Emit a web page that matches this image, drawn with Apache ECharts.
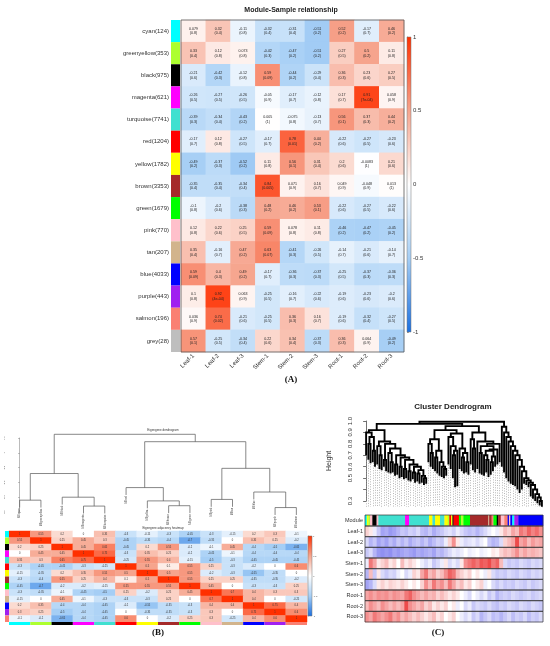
<!DOCTYPE html>
<html>
<head>
<meta charset="utf-8">
<script src="https://cdn.jsdelivr.net/npm/echarts@6/dist/echarts.min.js"></script>
<style>
  html, body { margin: 0; padding: 0; background: #fff; }
  #chart { width: 550px; height: 646px; }
</style>
</head>
<body>
<div id="chart"></div>
<script>
// ---------- panel A : module-sample relationship ----------
var samples = ['Leaf-1', 'Leaf-2', 'Leaf-3', 'Stem-1', 'Stem-2', 'Stem-3', 'Root-1', 'Root-2', 'Root-3'];
var modules = ['cyan', 'greenyellow', 'black', 'magenta', 'turquoise', 'red', 'yellow', 'brown',
               'green', 'pink', 'tan', 'blue', 'purple', 'salmon', 'grey'];
var moduleSizes = [124, 353, 975, 621, 7741, 1204, 1782, 3353, 1679, 770, 207, 4033, 443, 196, 28];
var corr = [
  [0.079, 0.32, -0.11, -0.32, -0.31, -0.51, 0.52, -0.17, 0.46],
  [0.33, 0.12, 0.073, -0.42, -0.47, -0.51, 0.27, 0.5, 0.11],
  [-0.21, -0.42, -0.12, 0.59, -0.44, -0.29, 0.36, 0.23, 0.27],
  [-0.26, -0.27, -0.26, -0.05, -0.17, -0.12, 0.17, 0.91, 0.058],
  [-0.39, -0.34, -0.43, 0.005, -0.075, -0.13, 0.56, 0.37, 0.44],
  [-0.17, 0.12, -0.27, -0.17, 0.78, 0.44, -0.22, -0.27, -0.23],
  [-0.49, -0.37, -0.52, 0.11, 0.56, 0.31, 0.2, -0.0083, 0.21],
  [-0.35, -0.35, -0.34, 0.84, 0.071, 0.16, 0.049, -0.048, 0.013],
  [-0.1, -0.2, -0.38, 0.48, 0.46, 0.53, -0.22, -0.27, -0.22],
  [0.12, 0.22, 0.25, 0.59, 0.078, 0.11, -0.46, -0.47, -0.45],
  [0.35, -0.16, 0.47, 0.63, -0.41, -0.26, -0.14, -0.21, -0.14],
  [0.59, 0.4, 0.49, -0.17, -0.36, -0.37, -0.25, -0.37, -0.36],
  [0.1, 0.92, 0.063, -0.25, -0.16, -0.22, -0.19, -0.23, -0.2],
  [0.036, 0.74, -0.21, -0.25, 0.36, 0.16, -0.19, -0.32, -0.27],
  [0.57, -0.25, -0.34, 0.22, 0.34, -0.37, 0.36, 0.064, -0.49]
];
var pvals = [
  ['0.8', '0.4', '0.8', '0.4', '0.4', '0.2', '0.2', '0.7', '0.2'],
  ['0.4', '0.8', '0.8', '0.3', '0.2', '0.2', '0.5', '0.2', '0.8'],
  ['0.6', '0.3', '0.8', '0.09', '0.2', '0.4', '0.3', '0.6', '0.5'],
  ['0.5', '0.5', '0.5', '0.9', '0.7', '0.8', '0.7', '7e-04', '0.9'],
  ['0.3', '0.4', '0.2', '1', '0.8', '0.7', '0.1', '0.3', '0.2'],
  ['0.7', '0.8', '0.5', '0.7', '0.01', '0.2', '0.6', '0.5', '0.6'],
  ['0.2', '0.3', '0.2', '0.8', '0.1', '0.4', '0.6', '1', '0.6'],
  ['0.4', '0.4', '0.4', '0.005', '0.9', '0.7', '0.9', '0.9', '1'],
  ['0.8', '0.6', '0.3', '0.2', '0.2', '0.1', '0.6', '0.5', '0.6'],
  ['0.8', '0.6', '0.5', '0.09', '0.8', '0.8', '0.2', '0.2', '0.2'],
  ['0.4', '0.7', '0.2', '0.07', '0.3', '0.5', '0.7', '0.6', '0.7'],
  ['0.09', '0.3', '0.2', '0.7', '0.3', '0.3', '0.5', '0.3', '0.3'],
  ['0.8', '4e-04', '0.9', '0.5', '0.7', '0.6', '0.6', '0.6', '0.6'],
  ['0.9', '0.02', '0.6', '0.5', '0.3', '0.7', '0.6', '0.4', '0.5'],
  ['0.1', '0.5', '0.4', '0.6', '0.4', '0.3', '0.3', '0.9', '0.2']
];

// ---------- panel B : eigengene dendrogram + adjacency ----------
var eigenNames = ['cyan', 'greenyellow', 'black', 'magenta', 'turquoise', 'red', 'yellow',
                  'brown', 'green', 'pink', 'tan', 'blue', 'purple', 'salmon'];
// merge height between neighbouring leaves (dendrogram order)
var eigenGaps = [0.36, 0.72, 0.40, 0.28, 1.25, 0.53, 0.35, 0.285, 1.15, 0.37, 0.79, 0.47, 0.26];
var adjacency = [
  [1, 0.55, 0.2, 0, 0.35, -0.3, -0.15, -0.3, -0.45, -0.3, -0.15, 0.2, 0.3, -0.1],
  [0.55, 1, 0.25, 0.45, 0.3, -0.45, -0.35, -0.4, -0.7, -0.35, 0, 0.35, 0.25, -0.2],
  [0.2, 0.25, 1, 0.45, 0.65, -0.45, 0.2, 0.55, -0.2, -0.1, 0.45, -0.4, -0.5, -0.65],
  [0, 0.45, 0.45, 1, 0.75, -0.3, 0.35, 0.25, -0.2, -0.45, -0.1, -0.4, -0.4, -0.4],
  [0.35, 0.3, 0.65, 0.75, 1, -0.25, 0.55, 0.4, -0.15, -0.5, -0.3, -0.45, -0.45, -0.45],
  [-0.3, -0.45, -0.45, -0.3, -0.25, 1, 0.5, 0.1, 0.55, 0.25, -0.3, -0.2, 0, 0.6],
  [-0.15, -0.35, 0.2, 0.35, 0.55, 0.5, 1, 0.5, 0.55, -0.2, -0.3, -0.55, -0.35, 0],
  [-0.3, -0.4, 0.55, 0.25, 0.4, 0.1, 0.5, 1, 0.55, 0.25, 0.25, -0.35, -0.35, -0.2],
  [-0.45, -0.7, -0.2, -0.2, -0.15, 0.55, 0.55, 0.55, 1, 0.45, 0, -0.3, -0.3, 0.25],
  [-0.3, -0.35, -0.1, -0.45, -0.5, 0.25, -0.2, 0.25, 0.45, 1, 0.7, 0.4, 0.3, 0.3],
  [-0.15, 0, 0.45, -0.1, -0.3, -0.3, -0.3, 0.25, 0, 0.7, 1, 0.4, 0, -0.25],
  [0.2, 0.35, -0.4, -0.4, -0.45, -0.2, -0.55, -0.35, -0.3, 0.4, 0.4, 1, 0.75, 0.4],
  [0.3, 0.25, -0.5, -0.4, -0.45, 0, -0.35, -0.35, -0.3, 0.3, 0, 0.75, 1, 0.6],
  [-0.1, -0.2, -0.65, -0.4, -0.45, 0.6, 0, -0.2, 0.25, 0.3, -0.25, 0.4, 0.6, 1]
];

// ---------- panel C : gene cluster dendrogram ----------
var geneLeafH = [0.70, 0.66, 0.63, 0.64, 0.60, 0.62, 0.58, 0.57, 0.60, 0.56, 0.55, 0.54, 0.55, 0.52,
  0.53, 0.50, 0.51, 0.49, 0.50, 0.48, 0.47, 0.49, 0.46, 0.47, 0.45, 0.46, 0.44, 0.45,
  0.64, 0.60, 0.58, 0.56, 0.54, 0.52, 0.51, 0.50, 0.52,
  0.62, 0.58, 0.50, 0.42, 0.43, 0.58, 0.56, 0.54, 0.55, 0.53,
  0.62, 0.57, 0.55, 0.58, 0.54, 0.53, 0.52, 0.55, 0.51, 0.53, 0.56, 0.60, 0.62, 0.64,
  0.60, 0.55, 0.50, 0.47, 0.45, 0.44, 0.43, 0.40, 0.37, 0.40, 0.45, 0.44, 0.42, 0.34, 0.32,
  0.30, 0.28, 0.26, 0.25];
var geneGaps = [0.90, 0.80, 0.86, 0.74, 0.92, 0.78, 0.70, 0.82, 0.66, 0.80, 0.72, 0.64, 0.76, 0.62,
  0.70, 0.60, 0.68, 0.58, 0.66, 0.56, 0.62, 0.55, 0.60, 0.54, 0.57, 0.52, 0.50,
  0.975,
  0.80, 0.72, 0.84, 0.68, 0.74, 0.64, 0.60, 0.58,
  0.92,
  0.86, 0.78, 0.70, 0.74, 0.89, 0.76, 0.68, 0.72, 0.64,
  0.955,
  0.84, 0.76, 0.90, 0.82, 0.72, 0.78, 0.70, 0.66, 0.74, 0.64, 0.69, 0.75, 0.80,
  0.993,
  0.95, 0.90, 0.86, 0.82, 0.78, 0.74, 0.70, 0.66, 0.60, 0.56, 0.50, 0.48, 0.46, 0.44, 0.40,
  0.36, 0.33, 0.30];
var heightTicks = [0.3, 0.5, 0.6, 0.7, 0.8, 0.9, 1.0];
var moduleEdges = [0, 0.8, 1.5, 2.2, 3.3, 5.2, 6.0, 18.0, 19.8, 28.8, 30.3, 31.5, 33.7, 35.7, 37.2,
  37.9, 38.7, 39.3, 39.8, 42.2, 43.1, 44.2, 47.2, 55.4, 55.8, 56.9, 57.7, 59.2, 59.9, 61.0, 62.6,
  64.1, 64.7, 65.3, 66.2, 67.1, 68.9, 80];
var moduleRuns = ['cyan', 'yellow', 'greenyellow', 'pink', 'black', 'pink', 'turquoise', 'magenta',
  'turquoise', 'yellow', 'turquoise', 'yellow', 'turquoise', 'yellow', 'greenyellow', 'red', 'yellow',
  'black', 'red', 'green', 'greenyellow', 'green', 'brown', 'tan', 'brown', 'salmon', 'green', 'black',
  'brown', 'pink', 'salmon', 'blue', 'pink', 'blue', 'cyan', 'purple', 'blue'];
var exprLeaf1 = [0.2, 0.1, -0.1, -0.3, -0.5, -0.45, -0.55, -0.5, -0.4, -0.3, -0.35, -0.25, -0.3, -0.2, -0.35,
  -0.4, -0.3, -0.45, -0.35, -0.3, -0.2, -0.15, -0.25, -0.1, -0.2, -0.3, -0.35, -0.3, -0.4, -0.3, -0.2,
  -0.1, 0, -0.1, 0.1, 0.3, 0.2, 0.4, 0.3, 0.6, 0.5, 0.7, 0.55, 0.65, 0.5];
var exprLeaf2 = [-0.2, -0.4, -0.3, -0.5, -0.4, -0.5, -0.35, -0.45, -0.3, -0.4, -0.3, -0.45, -0.35, -0.3, -0.4,
  -0.3, -0.45, -0.35, -0.25, -0.3, -0.1, 0.2, 0.5, 0.1, -0.1, -0.2, -0.15, -0.1, -0.2, -0.1, 0,
  -0.3, -0.4, -0.35, -0.2, 0.2, 0.3, 0.4, 0.8, 0.4, 0.5, 0.3, 0.45, 0.35, 0.4];
var exprLeaf3 = [-0.3, -0.2, -0.4, -0.55, -0.6, -0.55, -0.6, -0.5, -0.55, -0.5, -0.45, -0.5, -0.55, -0.45, -0.5,
  -0.45, -0.4, -0.5, -0.35, -0.4, -0.3, -0.2, -0.1, -0.15, -0.1, 0, -0.1, -0.05, 0, -0.1, -0.05,
  0, 0.1, 0.05, 0.2, 0.3, 0.25, 0.35, 0.5, 0.3, 0.4, 0.3, 0.35, 0.3, 0.25];
var exprStem1 = [-0.1, 0.6, 0.4, 0.1, 0.2, 0.3, 0.1, 0.2, 0, 0.3, 0.1, 0.2, 0.1, 0, -0.1,
  -0.2, -0.1, -0.3, -0.2, -0.1, 0.1, -0.2, -0.1, -0.2, 0.1, 0.5, 0.6, 0.7, 0.6, 0.75, 0.7,
  0.8, 0.6, 0.7, 0.3, -0.2, -0.3, -0.25, -0.3, -0.2, -0.25, -0.3, -0.2, -0.25, -0.2];
var exprStem2 = [-0.4, 0.3, -0.3, 0.1, -0.2, -0.3, -0.2, -0.25, -0.1, 0, -0.2, -0.1, 0.2, 0.1, 0.4,
  0.6, 0.3, 0.4, 0.2, 0.3, 0.5, 0.7, 0.6, 0.3, 0.2, 0.1, 0.2, 0, 0.1, 0, -0.1,
  0.1, -0.2, -0.3, -0.25, -0.3, -0.2, -0.25, -0.3, -0.2, -0.25, -0.3, -0.2, -0.25, -0.2];
var exprStem3 = [-0.5, -0.4, -0.2, 0.1, 0.2, 0.1, 0.2, 0.15, 0.1, 0.2, 0.1, 0, 0.1, 0, 0.2,
  0.5, 0.3, 0.6, 0.4, 0.5, 0.3, 0.6, 0.4, 0.2, 0.3, 0.1, 0.2, 0, 0.1, 0.2, -0.1,
  0, -0.2, -0.3, -0.2, -0.3, -0.25, -0.3, -0.2, -0.25, -0.3, -0.2, -0.3, -0.25, -0.2];
var exprRoot1 = [0.4, 0.5, 0.4, 0.5, 0.45, 0.5, 0.4, 0.5, 0.45, 0.4, 0.6, 0.7, 0.5, 0.4, 0.3,
  0.4, 0.3, 0.35, 0.2, 0.3, 0.2, 0.1, 0.2, 0.1, 0, -0.1, -0.2, 0, -0.1, -0.2, -0.1,
  -0.3, -0.2, -0.4, -0.3, -0.25, -0.3, -0.2, -0.25, -0.3, -0.25, -0.2, -0.3, -0.25, -0.2];
var exprRoot2 = [0.3, 0.5, 0.4, 0.3, 0.5, 0.4, 0.3, 0.4, 0.3, 0.4, 0.8, 0.5, 0.4, 0.3, 0.4,
  0.2, 0.3, 0.1, 0.2, 0.1, 0.2, 0, 0.1, -0.1, 0, -0.2, -0.1, -0.3, -0.2, -0.25, -0.3,
  -0.2, -0.3, -0.35, -0.25, -0.3, -0.2, -0.25, -0.3, -0.2, -0.25, -0.3, -0.2, -0.25, -0.3];
var exprRoot3 = [0.5, 0.4, 0.6, 0.5, 0.4, 0.5, 0.6, 0.4, 0.5, 0.3, 0.4, 0.3, 0.2, 0.3, 0.2,
  0.1, 0.2, 0.3, 0.1, 0.2, 0, 0.1, 0.2, 0, -0.1, -0.2, -0.1, -0.3, -0.2, -0.4, -0.3,
  -0.2, -0.35, -0.3, -0.4, -0.3, -0.2, -0.35, -0.25, -0.3, -0.2, -0.35, -0.25, -0.3, -0.2];
var exprRows = [exprLeaf1, exprLeaf2, exprLeaf3, exprStem1, exprStem2, exprStem3, exprRoot1, exprRoot2, exprRoot3];

// ---------- styling ----------
var FONT = 'Liberation Sans';
var wgcnaColors = {
  cyan: '#00FFFF', greenyellow: '#ADFF2F', black: '#000000', magenta: '#FF00FF', turquoise: '#40E0D0',
  red: '#FF0000', yellow: '#FFFF00', brown: '#A52A2A', green: '#00FF00', pink: '#FFC0CB', tan: '#D2B48C',
  blue: '#0000FF', purple: '#A020F0', salmon: '#FA8072', grey: '#BEBEBE'
};
var paletteA = ['#1a6fe0', '#a5cef5', '#ffffff', '#f6a48d', '#ff3000'];
var paletteC = ['#4646e8', '#ffffff', '#e81e1e'];

function gradientFill(pal) {
  var rev = pal.slice().reverse();
  return {
    type: 'linear', x: 0, y: 0, x2: 0, y2: 1,
    colorStops: rev.map(function (c, i) { return { offset: i / (rev.length - 1), color: c }; })
  };
}

// dendrogram layout from neighbour merge heights: split at the highest gap
function dendro(gaps, leafEnd) {
  var segs = [], leaves = [];
  function build(lo, hi) {
    if (lo === hi) return { x: lo, leaf: true };
    var k = lo;
    for (var i = lo + 1; i < hi; i++) if (gaps[i] > gaps[k]) k = i;
    var h = gaps[k], L = build(lo, k), R = build(k + 1, hi);
    var hl = L.leaf ? leafEnd(L.x, h) : L.h;
    var hr = R.leaf ? leafEnd(R.x, h) : R.h;
    if (L.leaf) leaves.push([L.x, hl]);
    if (R.leaf) leaves.push([R.x, hr]);
    segs.push({ coords: [[L.x, hl], [L.x, h], [R.x, h], [R.x, hr]] });
    return { x: (L.x + R.x) / 2, h: h };
  }
  build(0, gaps.length);
  return { segs: segs, leaves: leaves };
}

function stripRender(colors) {
  return function (params, api) {
    var c = api.coord([api.value(0), api.value(1)]);
    var s = api.size([1, 1]);
    return {
      type: 'rect',
      shape: { x: c[0] - s[0] / 2, y: c[1] - s[1] / 2, width: s[0], height: s[1] },
      style: { fill: colors[params.dataIndex] }
    };
  };
}

function colorbarRender(pal) {
  return function (params, api) {
    var a = api.coord([0, 1]), b = api.coord([1, -1]);
    return {
      type: 'rect',
      shape: { x: a[0], y: a[1], width: b[0] - a[0], height: b[1] - a[1] },
      style: { fill: gradientFill(pal), stroke: '#777', lineWidth: 0.5 }
    };
  };
}

function frameRender(params) {
  var cs = params.coordSys;
  return {
    type: 'rect',
    shape: { x: cs.x, y: cs.y, width: cs.width, height: cs.height },
    style: { fill: 'none', stroke: '#555', lineWidth: 0.8 }
  };
}

function rowBoxRender(params, api) {
  var c = api.coord([0, api.value(1)]);
  var h = api.size([0, 1])[1];
  var cs = params.coordSys;
  return {
    type: 'rect',
    shape: { x: cs.x, y: c[1] - h / 2, width: cs.width, height: h },
    style: { fill: 'none', stroke: '#333', lineWidth: 0.7 }
  };
}

// ---------- build series data ----------
var heatA = [];
corr.forEach(function (row, i) {
  row.forEach(function (v, j) { heatA.push([j, i, v]); });
});
var heatB = [];
adjacency.forEach(function (row, i) {
  row.forEach(function (v, j) { heatB.push([j, i, v]); });
});
var heatC = [];
exprRows.forEach(function (row, i) {
  row.forEach(function (v, j) { heatC.push([j, i, v]); });
});
var treeB = dendro(eigenGaps, function (x, h) { return h - 0.1; });
var treeC = dendro(geneGaps, function (x, h) { return Math.min(geneLeafH[x], h - 0.01); });
var guidesC = treeC.leaves.map(function (l) { return { coords: [[l[0], l[1] - 0.005], [l[0], 0.25]] }; });
var moduleSegs = moduleRuns.map(function (m, i) { return [moduleEdges[i], moduleEdges[i + 1]]; });
var moduleSegColors = moduleRuns.map(function (m) { return wgcnaColors[m]; });
var exprIdx = exprLeaf1.map(function (v, i) { return i; });

var hidden = { show: false };
var option = {
  animation: false,
  textStyle: { fontFamily: FONT },
  grid: [
    { left: 181, top: 20, width: 223, height: 332 },   // 0 A heatmap
    { left: 171, top: 20, width: 9, height: 332 },     // 1 A module strip
    { left: 407, top: 37, width: 4, height: 295 },     // 2 A colour bar
    { left: 9, top: 438, width: 298, height: 74 },     // 3 B dendrogram
    { left: 9, top: 531, width: 298, height: 91 },     // 4 B heatmap
    { left: 5, top: 531, width: 4, height: 91 },       // 5 B left strip
    { left: 9, top: 622, width: 298, height: 3 },      // 6 B bottom strip
    { left: 308, top: 536, width: 4, height: 80 },     // 7 B colour bar
    { left: 365, top: 421, width: 178, height: 80 },   // 8 C dendrogram
    { left: 365, top: 515, width: 178, height: 11 },   // 9 C module bar
    { left: 365, top: 526, width: 178, height: 96 }    // 10 C expression rows
  ],
  xAxis: [
    { gridIndex: 0, type: 'category', data: samples, axisLine: hidden, axisTick: hidden,
      axisLabel: { rotate: 45, fontSize: 6, color: '#333', margin: 3, interval: 0 } },
    { gridIndex: 1, type: 'category', data: ['m'], show: false },
    { gridIndex: 2, type: 'value', min: 0, max: 1, show: false },
    { gridIndex: 3, type: 'value', min: -0.5, max: eigenNames.length - 0.5, show: false },
    { gridIndex: 4, type: 'category', data: eigenNames, show: false },
    { gridIndex: 5, type: 'category', data: ['m'], show: false },
    { gridIndex: 6, type: 'category', data: eigenNames, show: false },
    { gridIndex: 7, type: 'value', min: 0, max: 1, show: false },
    { gridIndex: 8, type: 'value', min: -0.5, max: geneLeafH.length - 0.5, show: false },
    { gridIndex: 9, type: 'value', min: 0, max: 80, show: false },
    { gridIndex: 10, type: 'category', data: exprIdx, show: false }
  ],
  yAxis: [
    { gridIndex: 0, type: 'category', data: modules, inverse: true, show: false },
    { gridIndex: 1, type: 'category', inverse: true, axisLine: hidden, axisTick: hidden,
      data: modules.map(function (m, i) { return m + '(' + moduleSizes[i] + ')'; }),
      axisLabel: { fontSize: 6, color: '#333', margin: 2, interval: 0 } },
    { gridIndex: 2, type: 'value', min: -1, max: 1, interval: 0.5, position: 'right', splitLine: hidden,
      axisLine: { show: true, lineStyle: { color: '#666', width: 0.6 } },
      axisTick: { show: true, length: 2, lineStyle: { color: '#666', width: 0.6 } },
      axisLabel: { fontSize: 6, color: '#333', margin: 2 } },
    { gridIndex: 3, type: 'value', min: 0.2, max: 1.2, interval: 0.2, offset: 2, splitLine: hidden,
      axisLine: { show: true, lineStyle: { color: '#777', width: 0.5 } },
      axisTick: { show: true, length: 1.5, lineStyle: { color: '#777', width: 0.5 } },
      axisLabel: { fontSize: 2.5, color: '#555', margin: 1, rotate: 90 } },
    { gridIndex: 4, type: 'category', data: eigenNames, inverse: true, show: false },
    { gridIndex: 5, type: 'category', data: eigenNames, inverse: true, show: false },
    { gridIndex: 6, type: 'category', data: ['m'], show: false },
    { gridIndex: 7, type: 'value', min: -1, max: 1, interval: 0.5, position: 'right', splitLine: hidden,
      axisLine: { show: true, lineStyle: { color: '#888', width: 0.4 } },
      axisTick: { show: true, length: 1, lineStyle: { color: '#888', width: 0.4 } },
      axisLabel: { fontSize: 2.5, color: '#555', margin: 1 } },
    { gridIndex: 8, type: 'value', min: 0.3, max: 1.0, interval: 0.1, offset: 10, splitLine: hidden,
      axisLine: { show: true, lineStyle: { color: '#333', width: 0.7 } },
      axisTick: { show: true, length: 3, lineStyle: { color: '#333', width: 0.7 } },
      axisLabel: { fontSize: 6, color: '#333', margin: 2, rotate: 90,
        formatter: function (v) {
          return heightTicks.some(function (t) { return Math.abs(t - v) < 1e-6; }) ? v.toFixed(1) : '';
        } },
      name: 'Height', nameLocation: 'middle', nameGap: 22, nameRotate: 90,
      nameTextStyle: { fontSize: 7, color: '#333' } },
    { gridIndex: 9, type: 'category', data: ['Module'], axisLine: hidden, axisTick: hidden,
      axisLabel: { fontSize: 5.5, color: '#333', margin: 2 } },
    { gridIndex: 10, type: 'category', data: samples, inverse: true, axisLine: hidden, axisTick: hidden,
      axisLabel: { fontSize: 5.5, color: '#333', margin: 2, interval: 0 } }
  ],
  visualMap: [
    { type: 'continuous', show: false, seriesIndex: 0, min: -1, max: 1, inRange: { color: paletteA } },
    { type: 'continuous', show: false, seriesIndex: 6, min: -1, max: 1, inRange: { color: paletteA } },
    { type: 'continuous', show: false, seriesIndex: 14, min: -1, max: 1, inRange: { color: paletteC } }
  ],
  series: [
    // 0 A heatmap
    { type: 'heatmap', xAxisIndex: 0, yAxisIndex: 0, data: heatA, silent: true,
      label: { show: true, fontSize: 3.6, lineHeight: 4.6, color: '#222',
        formatter: function (p) { return p.data[2] + '\n(' + pvals[p.data[1]][p.data[0]] + ')'; } } },
    // 1 A frame
    { type: 'custom', xAxisIndex: 0, yAxisIndex: 0, data: [[0, 0]], renderItem: frameRender, silent: true, z: 5 },
    // 2 A module strip
    { type: 'custom', xAxisIndex: 1, yAxisIndex: 1, silent: true,
      data: modules.map(function (m, i) { return [0, i]; }),
      renderItem: stripRender(modules.map(function (m) { return wgcnaColors[m]; })) },
    // 3 A colour bar
    { type: 'custom', xAxisIndex: 2, yAxisIndex: 2, data: [[0, 0]], renderItem: colorbarRender(paletteA), silent: true },
    // 4 B dendrogram
    { type: 'lines', coordinateSystem: 'cartesian2d', xAxisIndex: 3, yAxisIndex: 3, polyline: true,
      clip: false, silent: true, data: treeB.segs, lineStyle: { color: '#555', width: 0.7, opacity: 1 } },
    // 5 B leaf labels
    { type: 'custom', xAxisIndex: 3, yAxisIndex: 3, data: treeB.leaves, silent: true, clip: false,
      renderItem: function (params, api) {
        var c = api.coord([api.value(0), api.value(1)]);
        return { type: 'text', x: c[0], y: c[1] + 1, rotation: Math.PI / 2,
          style: { text: 'ME' + eigenNames[api.value(0)], textAlign: 'right', align: 'right',
            textVerticalAlign: 'middle', verticalAlign: 'middle', fontSize: 2.6, fill: '#444', fontFamily: FONT } };
      } },
    // 6 B heatmap
    { type: 'heatmap', xAxisIndex: 4, yAxisIndex: 4, data: heatB, silent: true,
      label: { show: true, fontSize: 2.6, color: '#333', formatter: function (p) { return String(p.data[2]); } } },
    // 7 B left strip
    { type: 'custom', xAxisIndex: 5, yAxisIndex: 5, silent: true,
      data: eigenNames.map(function (m, i) { return [0, i]; }),
      renderItem: stripRender(eigenNames.map(function (m) { return wgcnaColors[m]; })) },
    // 8 B bottom strip
    { type: 'custom', xAxisIndex: 6, yAxisIndex: 6, silent: true,
      data: eigenNames.map(function (m, i) { return [i, 0]; }),
      renderItem: stripRender(eigenNames.map(function (m) { return wgcnaColors[m]; })) },
    // 9 B colour bar
    { type: 'custom', xAxisIndex: 7, yAxisIndex: 7, data: [[0, 0]], renderItem: colorbarRender(paletteA), silent: true },
    // 10 C guides
    { type: 'lines', coordinateSystem: 'cartesian2d', xAxisIndex: 8, yAxisIndex: 8, polyline: false,
      clip: false, silent: true, data: guidesC,
      lineStyle: { color: '#9a9a9a', width: 0.7, type: [1, 1.5], opacity: 1 } },
    // 11 C dendrogram
    { type: 'lines', coordinateSystem: 'cartesian2d', xAxisIndex: 8, yAxisIndex: 8, polyline: true,
      clip: false, silent: true, data: treeC.segs, z: 3, lineStyle: { color: '#000', width: 1.9, opacity: 1 } },
    // 12 C module bar
    { type: 'custom', xAxisIndex: 9, yAxisIndex: 9, data: moduleSegs, silent: true,
      renderItem: function (params, api) {
        var a = api.coord([api.value(0), 0]), b = api.coord([api.value(1), 0]);
        var h = api.size([0, 1])[1];
        return { type: 'rect', shape: { x: a[0], y: a[1] - h / 2, width: b[0] - a[0] + 0.3, height: h },
          style: { fill: moduleSegColors[params.dataIndex] } };
      } },
    // 13 C module outline
    { type: 'custom', xAxisIndex: 9, yAxisIndex: 9, data: [[0, 0]], renderItem: rowBoxRender, silent: true, z: 5 },
    // 14 C expression rows
    { type: 'heatmap', xAxisIndex: 10, yAxisIndex: 10, data: heatC, silent: true },
    // 15 C row outlines
    { type: 'custom', xAxisIndex: 10, yAxisIndex: 10, silent: true, z: 5,
      data: samples.map(function (s, i) { return [0, i]; }), renderItem: rowBoxRender }
  ],
  graphic: [
    { type: 'text', x: 291, y: 10, style: { text: 'Module-Sample relationship', font: 'bold 7px ' + FONT,
      textAlign: 'center', textVerticalAlign: 'middle', fill: '#222' } },
    { type: 'text', x: 291, y: 380, style: { text: '(A)', font: 'bold 9px "Liberation Serif"',
      textAlign: 'center', textVerticalAlign: 'middle', fill: '#111' } },
    { type: 'text', x: 163, y: 430, style: { text: 'Eigengene dendrogram', font: '3px ' + FONT,
      textAlign: 'center', textVerticalAlign: 'middle', fill: '#333' } },
    { type: 'text', x: 163, y: 528, style: { text: 'Eigengene adjacency heatmap', font: '3px ' + FONT,
      textAlign: 'center', textVerticalAlign: 'middle', fill: '#333' } },
    { type: 'text', x: 158, y: 633, style: { text: '(B)', font: 'bold 9px "Liberation Serif"',
      textAlign: 'center', textVerticalAlign: 'middle', fill: '#111' } },
    { type: 'text', x: 453, y: 407, style: { text: 'Cluster Dendrogram', font: 'bold 8px ' + FONT,
      textAlign: 'center', textVerticalAlign: 'middle', fill: '#222' } },
    { type: 'text', x: 438, y: 633, style: { text: '(C)', font: 'bold 9px "Liberation Serif"',
      textAlign: 'center', textVerticalAlign: 'middle', fill: '#111' } }
  ]
};

var chart = echarts.init(document.getElementById('chart'));
chart.setOption(option);
</script>
</body>
</html>
